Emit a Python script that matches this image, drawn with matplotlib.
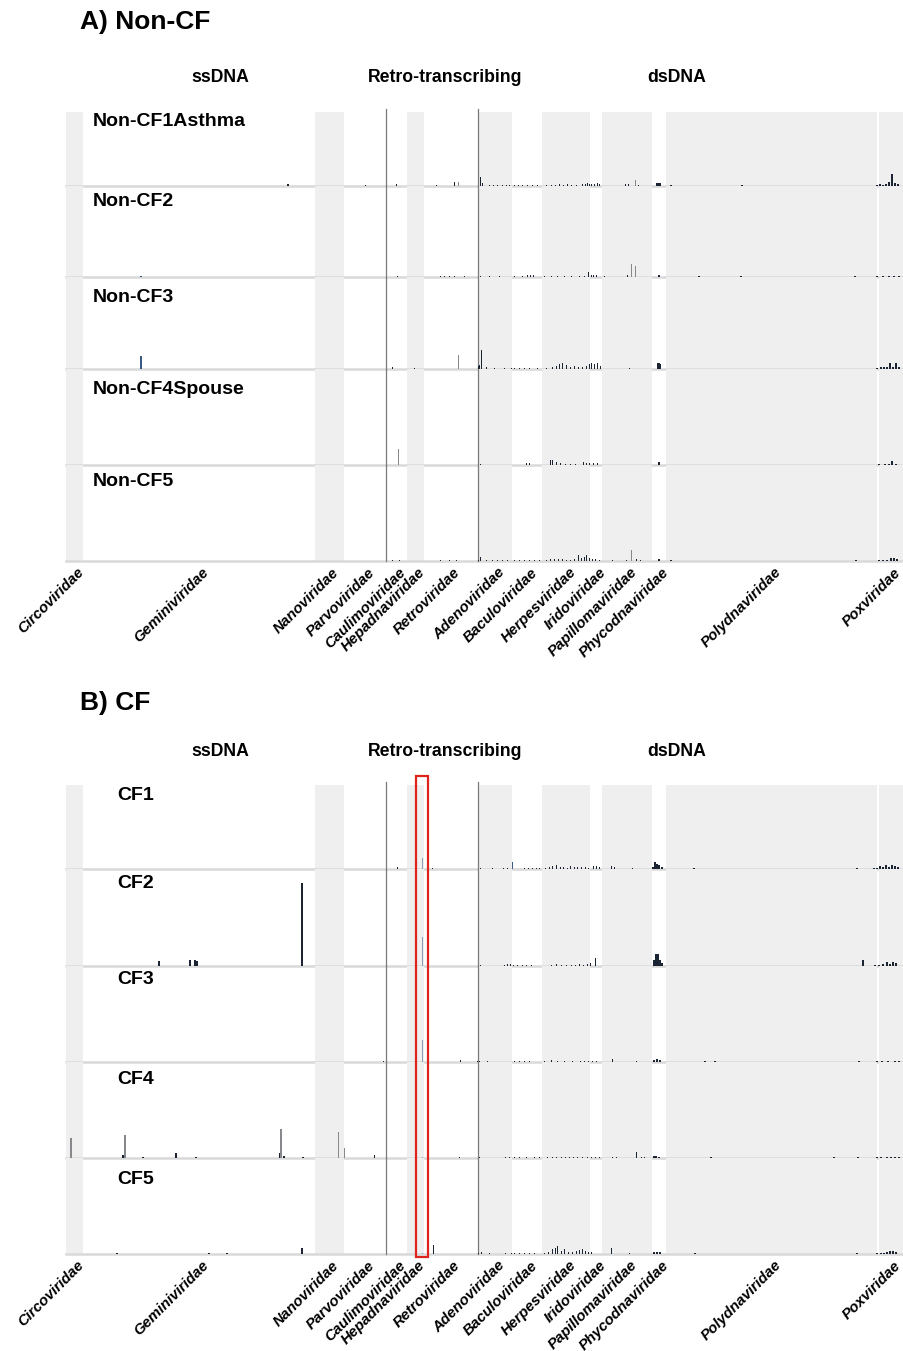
import matplotlib
matplotlib.use("Agg")
import matplotlib.pyplot as plt
from matplotlib.patches import Rectangle
from matplotlib.transforms import blended_transform_factory

plt.rcParams['font.family'] = ['Liberation Sans', 'DejaVu Sans']

# virus families along the genome axis, in plotting order
families = ['Circoviridae', 'Geminiviridae', 'Nanoviridae', 'Parvoviridae',
            'Caulimoviridae', 'Hepadnaviridae', 'Retroviridae',
            'Adenoviridae', 'Baculoviridae', 'Herpesviridae', 'Iridoviridae',
            'Papillomaviridae', 'Phycodnaviridae', 'Polydnaviridae', '',
            'Poxviridae']
genomes_per_family = [17, 232, 29, 42, 21, 17, 54, 35, 30, 48, 12, 50, 14, 211, 2, 24]
shaded = [1, 0, 1, 0, 0, 1, 0, 1, 0, 1, 0, 1, 0, 1, 0, 1]
groups = ['ssDNA', 'Retro-transcribing', 'dsDNA']
group_last_family = ['Parvoviridae', 'Retroviridae', 'Poxviridae']

# HBV reference genome picked out in the CF panel
highlight_genome = 357

# ---- Non-CF samples: genome index / coverage ----
noncf1_idx = [222, 300, 331, 371, 389, 393, 415, 417, 424, 428, 432, 437, 441, 444,
              449, 453, 457, 462, 467, 472, 481, 486, 490, 494, 498, 502, 506, 511,
              517, 520, 522, 524, 526, 529, 532, 534, 560, 563, 570, 573, 592, 593,
              594, 595, 606, 677, 812, 815, 818, 821, 824, 827, 830, 833]
noncf1_val = [2, 1.5, 2, 1, 4, 4, 9, 3, 1, 1, 1, 1, 1, 1,
              1, 1, 1, 1, 1, 1, 1, 1.5, 1, 2, 1, 2, 1, 1,
              2, 2.5, 3, 2, 2.5, 2.5, 3, 2, 2, 2, 6, 1, 3, 3,
              3, 3, 1, 1, 1.5, 2, 1.5, 2, 4, 12, 3, 2]

noncf2_idx = [75, 332, 375, 379, 384, 389, 399, 415, 424, 434, 449, 457, 462, 465,
              468, 479, 486, 492, 499, 506, 514, 519, 523, 526, 528, 531, 539, 562,
              566, 570, 594, 634, 676, 790, 812, 818, 824, 829, 834]
noncf2_val = [1.5, 1.5, 1, 1, 1, 1, 1, 1.5, 1, 1, 1, 1, 2, 2,
              2.5, 1, 1, 1, 1, 1, 1, 1, 5, 2, 2, 2, 1, 2,
              13, 11, 2, 1, 1, 1, 1, 1, 1, 1, 1]

noncf3_idx = [75, 327, 349, 393, 413, 414, 416, 421, 429, 439, 446, 449, 454, 459,
              464, 472, 481, 487, 491, 494, 497, 501, 505, 509, 513, 517, 521, 524,
              526, 529, 532, 535, 564, 593, 594, 595, 812, 816, 819, 822, 825, 828,
              831, 834]
noncf3_val = [13, 2, 1, 14, 3, 4, 19, 1.5, 1, 1, 1, 1, 1, 1,
              1, 1, 1, 2, 3, 5, 6, 4, 2, 3, 2, 2, 3, 5,
              6, 5, 6, 3, 1, 6, 6, 5, 1, 1.5, 2, 1.5, 6, 2,
              6, 2]

noncf4_idx = [333, 415, 461, 464, 485, 487, 491, 495, 500, 505, 510, 518, 521, 524,
              528, 532, 594, 814, 820, 824, 827, 831]
noncf4_val = [16, 1, 2, 2, 5, 5, 3, 2, 1.5, 1.5, 1.5, 3, 2, 2,
              2, 2, 3, 1, 1, 1.5, 4, 1.5]

noncf5_idx = [327, 334, 375, 384, 391, 413, 415, 421, 427, 432, 437, 442, 449, 454,
              459, 464, 469, 474, 481, 485, 489, 493, 497, 501, 505, 509, 513, 516,
              519, 521, 524, 527, 530, 534, 547, 561, 566, 571, 575, 594, 606, 791,
              814, 818, 822, 826, 829, 832]
noncf5_val = [1.5, 1, 1, 1.5, 1.5, 1.5, 4, 1, 1, 1, 1, 1, 1, 1,
              1, 1.5, 1, 1, 1, 2, 2, 2.5, 2, 1.5, 1.5, 2, 6, 3,
              4, 6, 3, 2, 2, 1.5, 1, 1, 11, 2, 1.5, 2.5, 1, 1,
              1, 1.5, 1.5, 3, 3.5, 2]

# ---- CF samples ----
cf1_idx = [332, 357, 367, 415, 427, 438, 442, 447, 459, 463, 467, 471, 474, 480,
           484, 487, 491, 495, 498, 502, 505, 509, 512, 516, 520, 523, 528, 531,
           534, 546, 549, 567, 588, 590, 592, 594, 597, 629, 792, 809, 812, 815,
           818, 821, 824, 827, 830, 833]
cf1_val = [2, 11, 1.5, 1, 1.5, 1, 1.5, 7, 1, 1.5, 1.5, 1, 1, 1,
           2, 3, 4, 2, 2, 1.5, 3, 2, 2, 2.5, 2, 1.5, 3, 3,
           2, 3, 2, 1, 2, 7, 5, 4, 2, 1, 1, 1, 1.5, 3,
           2, 4, 2, 4, 3, 2]

cf2_idx = [93, 124, 129, 131, 236, 357, 415, 439, 442, 445, 448, 452, 457, 461,
           466, 486, 491, 496, 501, 506, 510, 514, 518, 522, 525, 530, 589, 591,
           593, 595, 597, 798, 810, 814, 818, 822, 825, 828, 831]
cf2_val = [5, 6, 6, 5, 83, 29, 1.5, 1, 2, 2, 1, 1, 1.5, 1,
           1.5, 1, 2, 1.5, 1.5, 1, 1.5, 2, 1.5, 2, 3, 8, 6, 12,
           12, 6, 3, 6, 1, 1.5, 2, 4, 2, 4, 3]

cf3_idx = [318, 357, 395, 412, 414, 422, 449, 454, 459, 464, 479, 486, 492, 499,
           507, 515, 519, 523, 527, 531, 547, 571, 589, 592, 595, 640, 650, 794,
           812, 817, 823, 830, 834]
cf3_val = [1, 22, 2, 1, 1, 1, 1, 1, 1, 1, 1, 2, 1, 1,
           1, 1, 1.5, 1.5, 1.5, 1, 3, 1, 2, 3, 2, 1, 1, 1,
           1, 1, 1, 1, 1]

cf4_idx = [5, 57, 59, 77, 110, 130, 214, 215, 218, 237, 273, 279, 309, 357,
           394, 414, 440, 444, 449, 454, 461, 469, 474, 482, 487, 491, 496, 500,
           504, 508, 512, 517, 522, 526, 530, 534, 547, 551, 571, 576, 579, 589,
           591, 594, 646, 769, 793, 812, 816, 822, 826, 830, 834]
cf4_val = [20, 3, 23, 1, 5, 1, 5, 29, 2, 1.5, 26, 10, 3, 1,
           1, 1, 1, 1.5, 1, 1, 1, 1, 1, 1, 1.5, 1, 1, 1.5,
           1, 1, 1, 1, 1, 1, 1, 1, 1.5, 1, 6, 1, 1, 2,
           2.5, 1.5, 1, 1, 1, 1, 1, 1, 1.5, 1, 1]

cf5_idx = [51, 143, 161, 236, 357, 368, 413, 416, 424, 440, 446, 449, 454, 459,
           464, 469, 479, 483, 487, 490, 492, 496, 499, 503, 507, 511, 514, 517,
           520, 523, 526, 546, 564, 589, 592, 595, 630, 792, 812, 816, 819, 822,
           825, 828, 831]
cf5_val = [1.5, 1, 1, 6, 1, 9, 1.5, 2, 1, 1, 1, 1, 1, 1,
           1, 1.5, 1.5, 2, 5, 6, 8, 3, 5, 2, 2, 3, 4, 5,
           3, 2, 2, 6, 1, 2, 2.5, 2, 1, 1, 1, 1.5, 1.5, 2,
           3, 3, 2]

noncf_names = ['Non-CF1Asthma', 'Non-CF2', 'Non-CF3', 'Non-CF4Spouse', 'Non-CF5']
cf_names = ['CF1', 'CF2', 'CF3', 'CF4', 'CF5']
noncf_rows = [(noncf1_idx, noncf1_val), (noncf2_idx, noncf2_val), (noncf3_idx, noncf3_val),
              (noncf4_idx, noncf4_val), (noncf5_idx, noncf5_val)]
cf_rows = [(cf1_idx, cf1_val), (cf2_idx, cf2_val), (cf3_idx, cf3_val),
           (cf4_idx, cf4_val), (cf5_idx, cf5_val)]

# bar tones for a few genomes that stand out from the dark default
pale_genomes = {357}
grey_genomes = {5, 59, 215, 273, 279, 333, 393, 566, 570}
blue_genomes = {75, 447}

DARK, PALE, GREY, BLUE = '#1b2433', '#8d9bb0', '#86888c', '#3a5a85'
BAND = '#efefef'

W, H = 904, 1351
fig = plt.figure(figsize=(W / 100, H / 100), dpi=100)

starts = [sum(genomes_per_family[:i]) for i in range(len(families))]
ends = [s + n for s, n in zip(starts, genomes_per_family)]
total = ends[-1]
separators = [ends[families.index(f)] for f in group_last_family[:-1]]


def bar_colour(i):
    if i in pale_genomes:
        return PALE
    if i in grey_genomes:
        return GREY
    if i in blue_genomes:
        return BLUE
    return DARK


def px_axes(x0, y0, x1, y1):
    return fig.add_axes([x0 / W, 1 - y1 / H, (x1 - x0) / W, (y1 - y0) / H])


def draw_panel(title, title_y, head_y, edges, names, rows, name_x, name_dy):
    fig.text(80 / W, 1 - title_y / H, title, fontsize=19, fontweight='bold',
             ha='left', va='center')
    for g, gx in zip(groups, [220, 445, 677]):
        fig.text(gx / W, 1 - head_y / H, g, fontsize=12.7, fontweight='bold',
                 ha='center', va='center')
    axes = []
    for r, (name, (idx, val)) in enumerate(zip(names, rows)):
        ax = px_axes(66, edges[r], 903, edges[r + 1])
        ax.set_xlim(0, total)
        ax.set_ylim(0, edges[r + 1] - edges[r])
        for s, e, sh in zip(starts, ends, shaded):
            if sh:
                ax.axvspan(s, e, color=BAND, lw=0, zorder=0)
        ax.axhline(0, color='#d9d9d9', lw=1.8, zorder=1, clip_on=False)
        for sep in separators:
            ax.axvline(sep, ymax=1.04 if r == 0 else 1, color='#7a7a7a',
                       lw=0.9, zorder=2, clip_on=False)
        ax.bar(idx, val, width=1.6, color=[bar_colour(i) for i in idx],
               lw=0, zorder=3)
        ax.annotate(name, xy=(0, 1), xycoords='axes fraction',
                    xytext=(name_x * 0.72, -name_dy[r] * 0.72),
                    textcoords='offset points', fontsize=14,
                    fontweight='bold', ha='left', va='center')
        ax.axis('off')
        axes.append(ax)
    bottom = axes[-1]
    for fam, s, e in zip(families, starts, ends):
        if not fam:
            continue
        bottom.annotate(fam, xy=((s + e) / 2, 0), xycoords='data',
                        xytext=(2, -3), textcoords='offset points',
                        rotation=45, rotation_mode='anchor', ha='right',
                        va='top', fontsize=10.8, fontweight='bold',
                        style='italic')
    return axes


draw_panel('A) Non-CF', 22, 78, [112, 186, 277, 369, 465, 561],
           noncf_names, noncf_rows, 27, [10, 16, 21, 21, 17])
cf_axes = draw_panel('B) CF', 703, 752, [785, 869, 966, 1062, 1158, 1254],
                     cf_names, cf_rows, 51, [11, 14, 13, 18, 22])

# red box around the HBV genome column in the CF panel
trans = blended_transform_factory(cf_axes[-1].transData, fig.transFigure)
fig.add_artist(Rectangle((highlight_genome - 6.5, 1 - 1257 / H), 12,
                         (1257 - 776) / H, transform=trans, fill=False,
                         ec='#e0221c', lw=1.6, zorder=10))

fig.savefig('out.png', dpi=100)
